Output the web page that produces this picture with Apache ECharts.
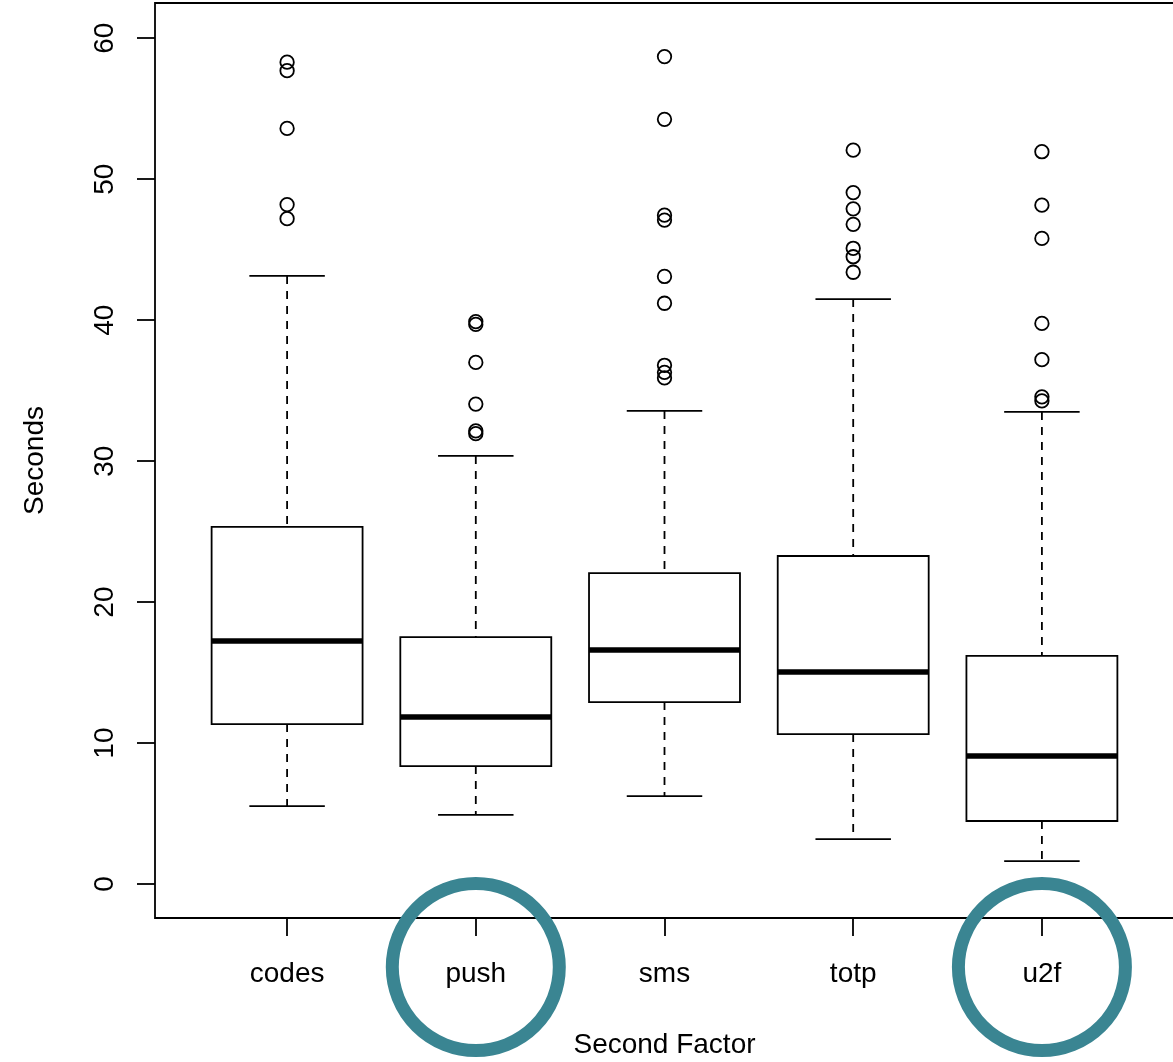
<!DOCTYPE html>
<html>
<head>
<meta charset="utf-8">
<script src="https://cdn.jsdelivr.net/npm/echarts@6/dist/echarts.min.js"></script>
<style>
  html, body { margin: 0; padding: 0; background: #fff; }
  #chart { width: 1173px; height: 1062px; }
</style>
</head>
<body>
<div id="chart"></div>
<script>
const categories = ["codes", "push", "sms", "totp", "u2f"];
const lowWhisker = [5.53, 4.9, 6.24, 3.19, 1.63];
const q1 = [11.35, 8.37, 12.91, 10.64, 4.47];
const median = [17.24, 11.85, 16.6, 15.04, 9.08];
const q3 = [25.33, 17.52, 22.06, 23.27, 16.18];
const highWhisker = [43.14, 30.37, 33.56, 41.5, 33.49];

const outCodes = [58.3, 57.7, 53.6, 48.2, 47.2];
const outPush = [39.9, 39.7, 37.0, 34.05, 32.15, 31.95];
const outSms = [58.7, 54.25, 47.45, 47.1, 43.1, 41.2, 36.8, 36.3, 35.9];
const outTotp = [52.06, 49.05, 47.9, 46.8, 45.1, 44.5, 43.4];
const outU2f = [51.95, 48.16, 45.8, 39.77, 37.2, 34.56, 34.28];

const yTicks = [0, 10, 20, 30, 40, 50, 60];
const xTicks = [1, 2, 3, 4, 5];

// categories that were circled in the original figure
const highlighted = ["push", "u2f"];

const font = "'Liberation Sans', Arial, Helvetica, sans-serif";

const boxData = categories.map((c, i) => [
  i + 1, lowWhisker[i], q1[i], median[i], q3[i], highWhisker[i],
]);
const outlierData = [];
[outCodes, outPush, outSms, outTotp, outU2f].forEach((arr, i) => {
  arr.forEach((v) => outlierData.push([i + 1, v]));
});
const circleData = highlighted.map((c) => [categories.indexOf(c) + 1, -5.89]);

const myChart = echarts.init(document.getElementById("chart"));

const renderBox = (params, api) => {
  const x = api.value(0);
  const lo = api.coord([x, api.value(1)]);
  const b1 = api.coord([x, api.value(2)]);
  const md = api.coord([x, api.value(3)]);
  const b3 = api.coord([x, api.value(4)]);
  const hi = api.coord([x, api.value(5)]);
  const boxW = api.size([0.8, 0])[0];
  const capW = boxW / 2;
  const cx = lo[0];
  const solid = { stroke: "#000", lineWidth: 1.8 };
  const dashed = { stroke: "#000", lineWidth: 1.8, lineDash: [8, 7] };
  return {
    type: "group",
    children: [
      { type: "line", shape: { x1: cx, y1: hi[1], x2: cx, y2: b3[1] }, style: dashed },
      { type: "line", shape: { x1: cx, y1: b1[1], x2: cx, y2: lo[1] }, style: dashed },
      { type: "line", shape: { x1: cx - capW / 2, y1: hi[1], x2: cx + capW / 2, y2: hi[1] }, style: solid },
      { type: "line", shape: { x1: cx - capW / 2, y1: lo[1], x2: cx + capW / 2, y2: lo[1] }, style: solid },
      {
        type: "rect",
        shape: { x: cx - boxW / 2, y: b3[1], width: boxW, height: b1[1] - b3[1] },
        style: { fill: "#fff", stroke: "#000", lineWidth: 1.8 },
      },
      { type: "line", shape: { x1: cx - boxW / 2, y1: md[1], x2: cx + boxW / 2, y2: md[1] }, style: { stroke: "#000", lineWidth: 5.5 } },
    ],
  };
};

myChart.setOption({
  animation: false,
  backgroundColor: "#fff",
  grid: {
    left: 155,
    right: -1,
    top: 3,
    bottom: 144,
    outerBoundsMode: "none",
    show: true,
    borderColor: "#000",
    borderWidth: 1.8,
  },
  xAxis: {
    type: "value",
    min: 0.3,
    max: 5.7,
    name: "Second Factor",
    nameLocation: "middle",
    nameGap: 113,
    nameTextStyle: { color: "#000", fontSize: 28, fontFamily: font },
    axisLine: { show: false, onZero: false },
    splitLine: { show: false },
    axisTick: {
      show: true,
      customValues: xTicks,
      length: 18,
      lineStyle: { color: "#000", width: 1.8 },
    },
    axisLabel: {
      customValues: xTicks,
      formatter: (v) => categories[Math.round(v) - 1],
      color: "#000",
      fontSize: 28,
      fontFamily: font,
      margin: 42,
    },
  },
  yAxis: {
    type: "value",
    min: -2.41,
    max: 62.5,
    name: "Seconds",
    nameLocation: "middle",
    nameRotate: 90,
    nameGap: 106,
    nameTextStyle: { color: "#000", fontSize: 28, fontFamily: font },
    axisLine: { show: false, onZero: false },
    splitLine: { show: false },
    axisTick: {
      show: true,
      customValues: yTicks,
      length: 18,
      lineStyle: { color: "#000", width: 1.8 },
    },
    axisLabel: {
      customValues: yTicks,
      rotate: 90,
      color: "#000",
      fontSize: 28,
      fontFamily: font,
      margin: 36,
    },
  },
  series: [
    {
      name: "box",
      type: "custom",
      silent: true,
      renderItem: renderBox,
      encode: { x: 0, y: [1, 2, 3, 4, 5] },
      data: boxData,
    },
    {
      name: "outliers",
      type: "scatter",
      silent: true,
      symbol: "circle",
      symbolSize: 13.5,
      itemStyle: { color: "rgba(0,0,0,0)", borderColor: "#000", borderWidth: 1.8, opacity: 1 },
      data: outlierData,
      z: 3,
    },
    {
      name: "highlight",
      type: "scatter",
      silent: true,
      clip: false,
      symbol: "circle",
      symbolSize: 167,
      itemStyle: { color: "rgba(0,0,0,0)", borderColor: "#3a8592", borderWidth: 13, opacity: 1 },
      data: circleData,
      z: 5,
    },
  ],
});
</script>
</body>
</html>
